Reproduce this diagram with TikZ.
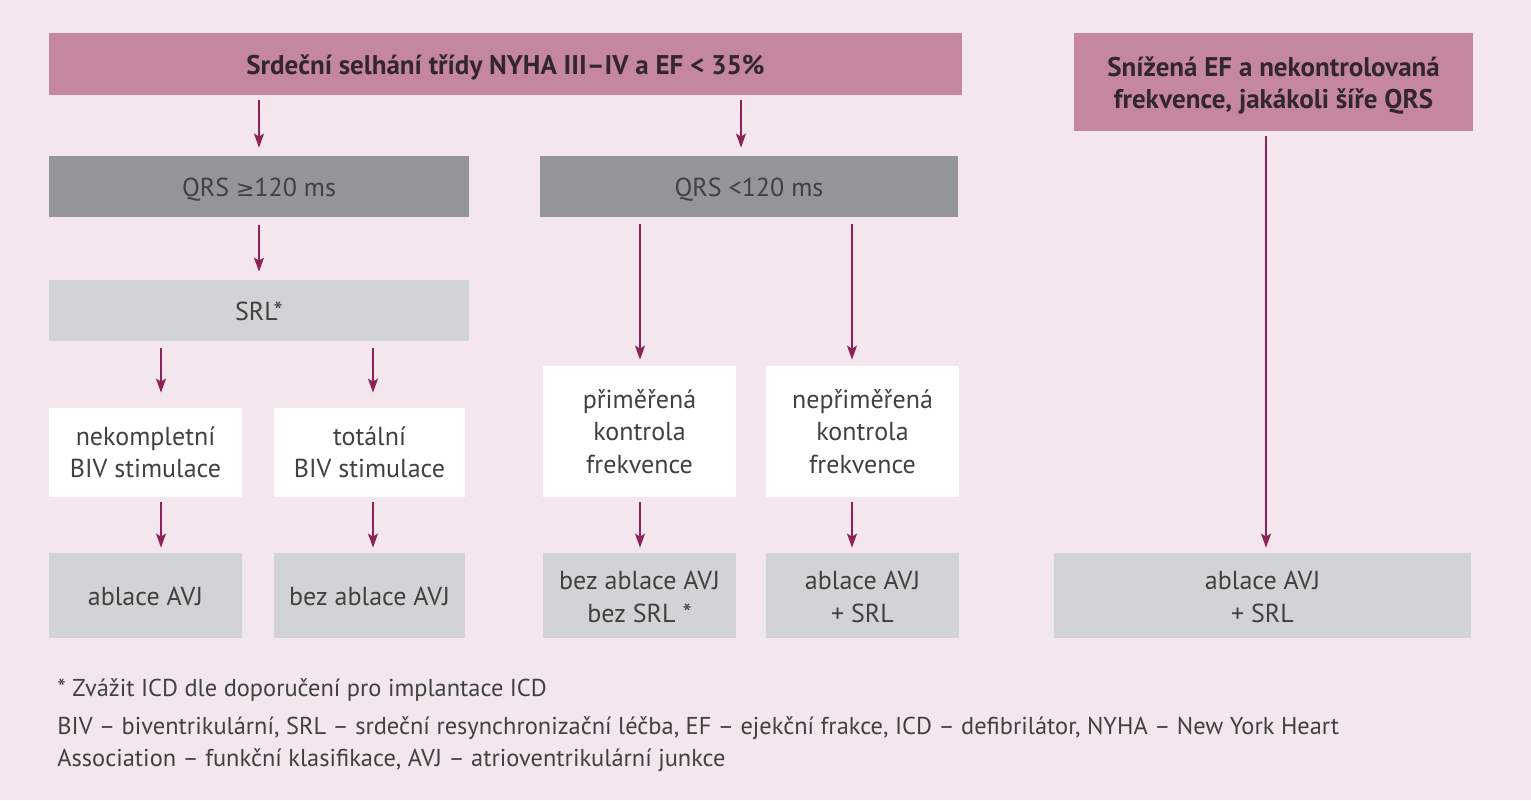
\documentclass[tikz,border=0pt]{standalone}
\usepackage{fontspec}
\setmainfont{PT Sans}
\newfontfamily\symfont{DejaVu Sans}
\usetikzlibrary{arrows.meta,calc}
\definecolor{bg}{HTML}{F3E6EC}
\definecolor{pinkhd}{HTML}{C4879F}
\definecolor{dgray}{HTML}{939598}
\definecolor{lgray}{HTML}{D1D3D4}
\definecolor{arrc}{HTML}{8C2259}
\definecolor{txt}{HTML}{414141}
\definecolor{htxt}{HTML}{33262D}
\newcommand\myarr[5]{\draw[arr] ($(#3,0 |- #1.south)+(0,#4)$) -- ($(#3,0 |- #2.north)+(0,-#5)$);}
\newcommand\lo[2]{\raisebox{-#1}[\height][\depth]{\begin{tabular}{@{}c@{}}#2\end{tabular}}}
\begin{document}
\begin{tikzpicture}[x=0.5pt,y=-0.5pt,
  bx/.style={inner sep=0pt, align=center, text=txt, font=\fontsize{13}{16.2}\selectfont},
  hdr/.style={bx, fill=pinkhd, text=htxt, font=\fontsize{13.5}{16}\selectfont\bfseries},
  dk/.style={bx, fill=dgray},
  lt/.style={bx, fill=lgray},
  wh/.style={bx, fill=white},
  sl/.style={text height=1em, text depth=0pt},
  arr/.style={draw=arrc, line width=0.75pt, -{Stealth[length=7pt,width=5pt,inset=1.5pt]}},
  ft/.style={anchor=west, inner sep=0pt, text=txt, font=\fontsize{12.2}{14}\selectfont}]
\fill[bg] (0,0) rectangle (1531,800);
\useasboundingbox (0,0) rectangle (1531,800);

\node[hdr, sl, minimum width=456.5pt, minimum height=31pt] (h1) at (505.5,64) {Srdeční selhání třídy NYHA III–IV a EF < 35\%};
\node[hdr, minimum width=199.5pt, minimum height=49pt] (h2) at (1273.5,82) {\lo{2pt}{Snížená EF a nekontrolovaná\\frekvence, jakákoli šíře QRS}};

\node[dk, sl, minimum width=210pt, minimum height=30.5pt] (q1) at (259,186.5) {QRS {\symfont\fontsize{11}{13}\selectfont ≥}120 ms};
\node[dk, sl, minimum width=209pt, minimum height=30.5pt] (q2) at (749,186.5) {QRS <120 ms};
\node[lt, sl, minimum width=210pt, minimum height=30.5pt] (srl) at (259,310.5) {SRL*};

\node[wh, minimum width=96.5pt, minimum height=44.5pt] (nek) at (145.5,452.5) {nekompletní\\BIV stimulace};
\node[wh, minimum width=95.5pt, minimum height=44.5pt] (tot) at (369.5,452.5) {totální\\BIV stimulace};
\node[wh, minimum width=96.5pt, minimum height=65.5pt] (pri) at (639.5,431.5) {přiměřená\\kontrola\\frekvence};
\node[wh, minimum width=96.5pt, minimum height=65.5pt] (nep) at (862.5,431.5) {nepřiměřená\\kontrola\\frekvence};

\node[lt, sl, minimum width=96.5pt, minimum height=42.5pt] (a1) at (145.5,595.5) {ablace AVJ};
\node[lt, sl, minimum width=95.5pt, minimum height=42.5pt] (a2) at (369.5,595.5) {bez ablace AVJ};
\node[lt, minimum width=96.5pt, minimum height=42.5pt] (a3) at (639.5,595.5) {\lo{2pt}{bez ablace AVJ\\bez SRL *}};
\node[lt, minimum width=96.5pt, minimum height=42.5pt] (a4) at (862.5,595.5) {\lo{2pt}{ablace AVJ\\+ SRL}};
\node[lt, minimum width=208.5pt, minimum height=42.5pt] (a5) at (1262.5,595.5) {\lo{2pt}{ablace AVJ\\+ SRL}};

\myarr{h1}{q1}{259}{5}{8}
\myarr{h1}{q2}{741}{5}{8}
\myarr{q1}{srl}{259}{8}{8}
\myarr{srl}{nek}{161}{7}{15}
\myarr{srl}{tot}{373}{7}{15}
\myarr{nek}{a1}{161}{5}{5}
\myarr{tot}{a2}{373}{5}{5}
\myarr{q2}{pri}{640}{7}{6}
\myarr{q2}{nep}{852}{7}{6}
\myarr{pri}{a3}{640}{5}{5}
\myarr{nep}{a4}{852}{5}{5}
\myarr{h2}{a5}{1266}{5}{5}

\node[ft] (f1) at (57,690) {* Zvážit ICD dle doporučení pro implantace ICD};
\node[ft] (f2) at (57,728) {BIV – biventrikulární, SRL – srdeční resynchronizační léčba, EF – ejekční frakce, ICD – defibrilátor, NYHA – New York Heart};
\node[ft] (f3) at (57,760) {Association – funkční klasifikace, AVJ – atrioventrikulární junkce};
\end{tikzpicture}
\end{document}
